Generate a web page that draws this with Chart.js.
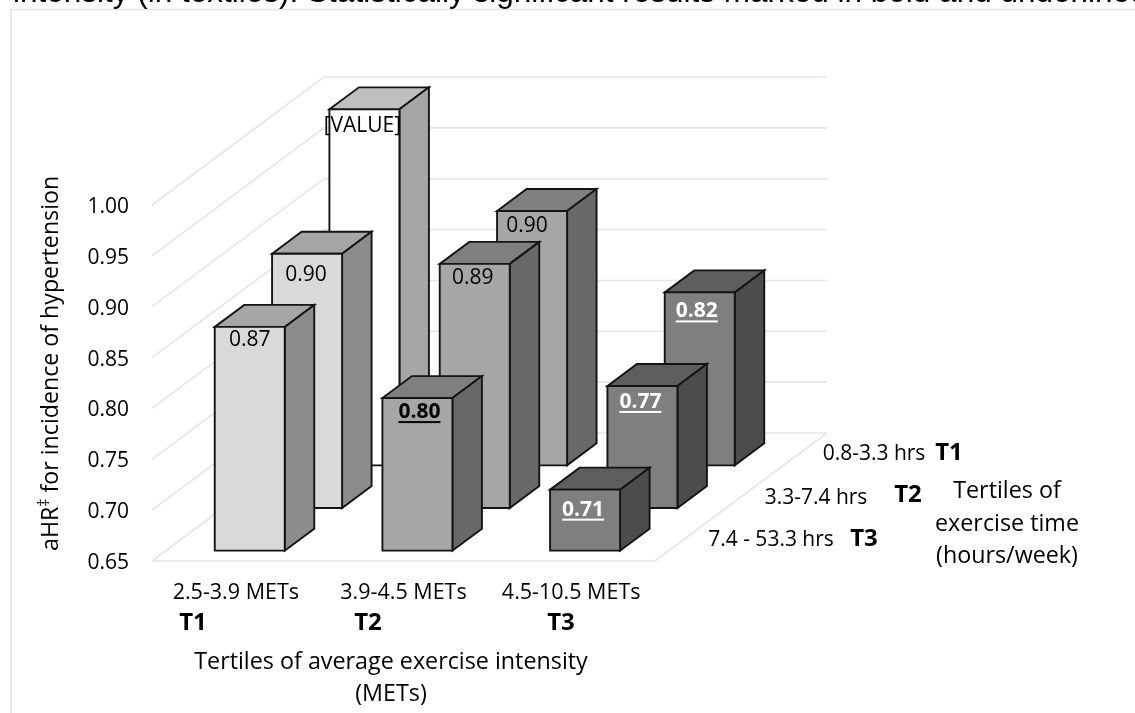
<!DOCTYPE html>
<html>
<head>
<meta charset="utf-8">
<style>
  html, body { margin: 0; padding: 0; background: #fff; overflow: hidden; }
  canvas { display: block; }
</style>
<script src="https://cdn.jsdelivr.net/npm/chart.js@4"></script>
</head>
<body>
<canvas id="chart3d" width="1135" height="713" style="width:1135px;height:713px"></canvas>
<script>
// categories and series (front row first)
const intensityLabels = ['2.5-3.9 METs', '3.9-4.5 METs', '4.5-10.5 METs'];
const timeLabels = ['7.4 - 53.3 hrs', '3.3-7.4 hrs', '0.8-3.3 hrs'];
const valuesT3 = [0.87, 0.80, 0.71];
const valuesT2 = [0.90, 0.89, 0.77];
const valuesT1 = [1.00, 0.90, 0.82];
const significantT3 = [false, true, true];
const significantT2 = [false, false, true];
const significantT1 = [false, false, true];
const yTickLabels = ['0.65', '0.70', '0.75', '0.80', '0.85', '0.90', '0.95', '1.00'];

const FONT = '"Open Sans"';
const yMin = 0.65;
const floorDx = 172, floorDy = 128, rows = 3;
const barDx = 29.5, barDy = 22, barWidth = 70;
const gridColor = '#e2e5ee';

// face colours per row and column: front, top, side
const faces = [
  [['#d9d9d9', '#a6a6a6', '#8c8c8c'], ['#a6a6a6', '#7f7f7f', '#686868'], ['#7f7f7f', '#5e5e5e', '#4c4c4c']],
  [['#d9d9d9', '#a6a6a6', '#8c8c8c'], ['#a6a6a6', '#7f7f7f', '#686868'], ['#7f7f7f', '#5e5e5e', '#4c4c4c']],
  [['#ffffff', '#bfbfbf', '#a6a6a6'], ['#a6a6a6', '#7f7f7f', '#686868'], ['#7f7f7f', '#5e5e5e', '#4c4c4c']]
];
// small shifts of the data labels from the bar centre, as placed in the original
const labelShift = [
  [[0, 13], [2, 14], [-2, 20]],
  [[-1, 21], [-2, 14], [-2, 16]],
  [[-2, 17], [-5, 15], [-3, 19]]
];

function poly(ctx, pts, fill) {
  ctx.beginPath();
  pts.forEach((p, i) => i ? ctx.lineTo(p[0], p[1]) : ctx.moveTo(p[0], p[1]));
  ctx.closePath();
  ctx.fillStyle = fill;
  ctx.fill();
  ctx.stroke();
}

class Bar3dController extends Chart.BarController {
  draw() {
    const ctx = this.chart.ctx;
    const ds = this.getDataset();
    const row = this.index;
    const offX = floorDx * (row + 0.5) / rows - barDx / 2;
    const offY = floorDy * (row + 0.5) / rows - barDy / 2;
    this._cachedMeta.data.forEach((el, i) => {
      const l = el.x - el.width / 2 + offX, r = l + el.width;
      const t = el.y - offY, b = el.base - offY;
      const c = faces[row][i];
      ctx.save();
      ctx.lineWidth = 1.9;
      ctx.lineJoin = 'miter';
      ctx.strokeStyle = '#141414';
      poly(ctx, [[l, t], [r, t], [r + barDx, t - barDy], [l + barDx, t - barDy]], c[1]);
      poly(ctx, [[r, t], [r + barDx, t - barDy], [r + barDx, b - barDy], [r, b]], c[2]);
      poly(ctx, [[l, t], [r, t], [r, b], [l, b]], c[0]);

      const sig = ds.significant[i];
      const text = ds.labelText ? ds.labelText[i] || ds.data[i].toFixed(2) : ds.data[i].toFixed(2);
      const lx = (l + r) / 2 + labelShift[row][i][0], ly = t + labelShift[row][i][1];
      ctx.font = (sig ? 'bold ' : '') + '21px ' + FONT;
      ctx.textAlign = 'center';
      ctx.textBaseline = 'middle';
      ctx.fillStyle = i === 2 ? '#ffffff' : '#000000';
      ctx.fillText(text, lx, ly);
      if (sig) {
        const w = ctx.measureText(text).width;
        ctx.fillRect(lx - w / 2, ly + 9, w, 2);
      }
      ctx.restore();
    });
  }
}
Bar3dController.id = 'bar3d';
Bar3dController.defaults = Chart.BarController.defaults;
Bar3dController.overrides = Chart.BarController.overrides;
Chart.register(Bar3dController);

const wallsPlugin = {
  id: 'walls',
  beforeDatasetsDraw(chart) {
    const ctx = chart.ctx, y = chart.scales.y, a = chart.chartArea;
    ctx.save();
    ctx.strokeStyle = gridColor;
    ctx.lineWidth = 1.6;
    y.ticks.forEach(tick => {
      const py = y.getPixelForValue(tick.value);
      ctx.beginPath();
      ctx.moveTo(a.left, py);
      ctx.lineTo(a.left + floorDx, py - floorDy);
      ctx.lineTo(a.right + floorDx, py - floorDy);
      ctx.stroke();
    });
    const by = y.getPixelForValue(y.min);
    ctx.beginPath();
    ctx.moveTo(a.left, by);
    ctx.lineTo(a.right, by);
    ctx.lineTo(a.right + floorDx, by - floorDy);
    ctx.stroke();
    ctx.restore();
  }
};

const textPlugin = {
  id: 'texts',
  beforeDraw(chart) {
    const ctx = chart.ctx;
    ctx.save();
    ctx.strokeStyle = '#dfe3ec';
    ctx.lineWidth = 1.6;
    ctx.beginPath();
    ctx.moveTo(11, 713);
    ctx.lineTo(11, 9.5);
    ctx.lineTo(1135, 9.5);
    ctx.stroke();
    ctx.fillStyle = '#000';
    ctx.font = '31.5px "Liberation Sans"';
    ctx.textBaseline = 'alphabetic';
    ctx.fillText('intensity (in textiles). Statistically significant results marked in bold and underlined', 13, 2);
    ctx.restore();
  },
  afterDraw(chart) {
    const ctx = chart.ctx;
    ctx.save();
    ctx.fillStyle = '#000';
    ctx.textBaseline = 'middle';
    ctx.textAlign = 'center';
    const put = (s, x, y, size, bold) => {
      ctx.font = (bold ? 'bold ' : '') + size + 'px ' + FONT;
      ctx.fillText(s, x, y);
    };
    // tertile tags under the categories
    put('T1', 193, 623, 24, true);
    put('T2', 368, 623, 24, true);
    put('T3', 561, 623, 24, true);
    put('Tertiles of average exercise intensity', 391, 662, 23.3);
    put('(METs)', 391, 694, 23.3);
    // depth axis labels
    put(timeLabels[2], 874, 454, 21);
    put('T1', 949, 453, 24, true);
    put(timeLabels[1], 816, 498, 21);
    put('T2', 908, 495, 24, true);
    put(timeLabels[0], 771, 540, 21);
    put('T3', 864, 539, 24, true);
    put('Tertiles of', 1007, 491, 23.3);
    put('exercise time', 1007, 524, 23.3);
    put('(hours/week)', 1007, 556, 23.3);

    // y axis title with the raised double dagger
    ctx.translate(58, 551);
    ctx.rotate(-Math.PI / 2);
    ctx.textAlign = 'left';
    ctx.textBaseline = 'alphabetic';
    ctx.font = '23.2px ' + FONT;
    ctx.fillText('aHR', 0, 0);
    let w = ctx.measureText('aHR').width;
    ctx.font = '16px ' + FONT;
    ctx.fillText('\u2021', w, -9);
    w += ctx.measureText('\u2021').width;
    ctx.font = '23.2px ' + FONT;
    ctx.fillText(' for incidence of hypertension', w, 0);
    ctx.restore();
  }
};

const makeSet = (label, data, significant, labelText) => ({
  label, data, significant, labelText,
  base: yMin,
  barThickness: barWidth,
  grouped: false,
  clip: false
});

new Chart(document.getElementById('chart3d').getContext('2d'), {
  type: 'bar3d',
  data: {
    labels: intensityLabels,
    datasets: [
      makeSet(timeLabels[0], valuesT3, significantT3),
      makeSet(timeLabels[1], valuesT2, significantT2),
      makeSet(timeLabels[2], valuesT1, significantT1, ['[VALUE]'])
    ]
  },
  options: {
    responsive: false,
    devicePixelRatio: 1,
    animation: false,
    layout: { padding: { top: 205, right: 480, left: 0, bottom: 0 } },
    plugins: { legend: { display: false }, title: { display: false }, tooltip: { enabled: false } },
    scales: {
      x: {
        grid: { display: false },
        border: { display: false },
        afterFit(s) { s.height = 152; },
        ticks: { color: '#000', padding: 11, maxRotation: 0, autoSkip: false, font: { family: FONT, size: 21.5 } }
      },
      y: {
        min: yMin,
        max: 1.0,
        grid: { display: false, drawTicks: false },
        border: { display: false },
        afterFit(s) { s.width = 152; },
        ticks: {
          stepSize: 0.05,
          color: '#000',
          padding: 23,
          labelOffset: 2,
          font: { family: FONT, size: 21 },
          callback(v, i) { return yTickLabels[i]; }
        }
      }
    }
  },
  plugins: [wallsPlugin, textPlugin]
});
</script>
</body>
</html>
